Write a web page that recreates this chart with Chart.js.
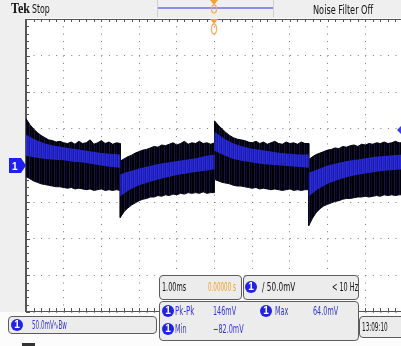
<!DOCTYPE html>
<html lang="en">
<head>
<meta charset="UTF-8">
<title>Tek scope capture</title>
<script src="https://cdn.jsdelivr.net/npm/chart.js"></script>
<style>
    body {
        margin: 0;
        width: 401px;
        height: 346px;
        overflow: hidden;
        position: relative;
        background: #fcfcfc;
        font-family: "Liberation Sans Narrow", "DejaVu Sans Condensed", sans-serif;
    }
    #scope { position: absolute; left: 0; top: 0; }
    #hdr { position: absolute; left: 0; top: 0; width: 401px; height: 18px; background: #efefef; }
    #lstrip { position: absolute; left: 0; top: 18px; width: 25px; height: 294px; background: #efefef; }
    .sep { position: absolute; top: 0; width: 1px; height: 17px; background: #cfcfcf; }
    .t {
        position: absolute;
        white-space: nowrap;
        font-size: 12px;
        line-height: 12px;
        transform: scaleX(0.6);
        transform-origin: 0 50%;
        color: #111;
    }
    .blue { color: #3434d6; }
    .box {
        position: absolute;
        box-sizing: border-box;
        border: 1px solid #5c5c5c;
        border-radius: 4px;
        background: #ececec;
    }
    .pill {
        position: absolute;
        width: 12px;
        height: 12px;
        border-radius: 6px;
        background: #2222e4;
        color: #fff;
        font: bold 10px/12px "Liberation Sans", sans-serif;
        text-align: center;
    }
    svg { position: absolute; left: 0; top: 0; }
</style>
</head>
<body>

<div id="hdr"></div>
<div id="lstrip"></div>
<canvas id="scope" width="403" height="346"></canvas>

<!-- header -->
<div class="sep" style="left:157px"></div>
<div class="sep" style="left:273px"></div>
<div style="position:absolute;left:158px;top:7px;width:115px;height:2px;background:#8b8bf0"></div>
<div class="t" style="left:11px;top:1px;font:bold 15px/15px 'Liberation Serif',serif;transform:scaleX(0.8)">Tek</div>
<div class="t" style="left:32px;top:3px;transform:scaleX(0.72)">Stop</div>
<div class="t" style="left:313px;top:3px;font-size:13px;line-height:13px;transform:scaleX(0.7)">Noise Filter Off</div>

<!-- markers -->
<svg width="401" height="346">
    <polygon points="210,0 218,0 214,5" fill="#f2a23c"/>
    <ellipse cx="214" cy="9" rx="2.5" ry="4" fill="none" stroke="#f5b060" stroke-width="1.3"/>
    <polygon points="210,19 218,19 214,24" fill="#f2a23c"/>
    <ellipse cx="214" cy="29" rx="2.5" ry="5" fill="none" stroke="#f5b060" stroke-width="1.3"/>
    <polygon points="9,158 21,158 26,165.5 21,173 9,173" fill="#2020ee"/>
    <text x="12" y="170" fill="#fff" font-family="Liberation Sans" font-weight="bold" font-size="10">1</text>
    <polygon points="397,130 403,124 409,130 403,136" fill="#3a3aee"/>
</svg>

<!-- readouts -->
<div class="box" style="left:159px;top:275px;width:83px;height:25px"></div>
<div class="box" style="left:243px;top:275px;width:116px;height:25px"></div>
<div class="box" style="left:159px;top:301px;width:200px;height:40px"></div>
<div class="box" style="left:359px;top:316px;width:46px;height:22px"></div>
<div class="box" style="left:8px;top:316px;width:149px;height:18px"></div>

<div class="t" style="left:162px;top:281px">1.00ms</div>
<div class="t" style="left:208px;top:281px;color:#f0a020;transform:scaleX(0.52)">0.00000 s</div>
<div class="pill" style="left:245px;top:281px">1</div>
<div class="t" style="left:262px;top:281px;transform:scaleX(0.68)">/ 50.0mV</div>
<div class="t" style="left:332px;top:281px">&lt; 10 Hz</div>

<div class="pill" style="left:162px;top:305px">1</div>
<div class="t blue" style="left:175px;top:305px;transform:scaleX(0.66)">Pk-Pk</div>
<div class="t blue" style="left:213px;top:305px">146mV</div>
<div class="pill" style="left:260px;top:305px">1</div>
<div class="t blue" style="left:275px;top:305px">Max</div>
<div class="t blue" style="left:313px;top:305px">64.0mV</div>
<div class="pill" style="left:162px;top:323px">1</div>
<div class="t blue" style="left:175px;top:323px">Min</div>
<div class="t blue" style="left:213px;top:323px">−82.0mV</div>

<div class="t" style="left:362px;top:321px;transform:scaleX(0.53)">13:09:10</div>
<div class="pill" style="left:11px;top:319px">1</div>
<div class="t blue" style="left:32px;top:319px;transform:scaleX(0.52)">50.0mV∿Bw</div>
<div style="position:absolute;left:22px;top:343px;width:13px;height:3px;background:#333"></div>

<script>
    // time axis in ms (1.00 ms/div, trigger at centre), voltage in mV (50 mV/div)
    const envTimeMs = [
        -5.0,-4.9,-4.8,-4.7,-4.6,-4.5,-4.4,-4.3,-4.2,-4.1,-4.0,-3.9,-3.8,-3.7,-3.6,-3.5,-3.4,-3.3,-3.2,-3.1,-3.0,-2.9,-2.8,-2.7,-2.6,-2.5,
        -2.5,-2.4,-2.3,-2.2,-2.1,-2.0,-1.9,-1.8,-1.7,-1.6,-1.5,-1.4,-1.3,-1.2,-1.1,-1.0,-0.9,-0.8,-0.7,-0.6,-0.5,-0.4,-0.3,-0.2,-0.1,0.0,
        0.0,0.1,0.2,0.3,0.4,0.5,0.6,0.7,0.8,0.9,1.0,1.1,1.2,1.3,1.4,1.5,1.6,1.7,1.8,1.9,2.0,2.1,2.2,2.3,2.4,2.5,
        2.5,2.6,2.7,2.8,2.9,3.0,3.1,3.2,3.3,3.4,3.5,3.6,3.7,3.8,3.9,4.0,4.1,4.2,4.3,4.4,4.5,4.6,4.7,4.8,4.9,5.0
    ];
    // upper edge of the trace envelope
    const envTop = [
        64,56,50,45,41,38,35,34,32,33,31,30,32,29,33,30,31,35,29,31,34,30,32,29,31,30,
        6,9,12,14,17,19,21,22,24,26,25,28,27,29,31,28,30,33,29,31,30,33,30,31,29,31,
        61,55,50,45,41,38,36,35,34,32,31,33,30,32,29,31,33,30,29,32,30,31,29,32,30,30,
        8,12,15,17,19,21,22,24,23,26,25,27,28,26,29,28,30,29,31,30,32,30,31,33,31,31
    ];
    // lower edge of the trace envelope
    const envBottom = [
        -15,-18,-21,-23,-25,-26,-27,-28,-29,-29,-30,-31,-30,-32,-31,-32,-33,-32,-34,-33,-32,-34,-33,-34,-33,-34,
        -71,-63,-58,-54,-51,-48,-46,-45,-43,-43,-41,-42,-40,-41,-39,-40,-38,-39,-37,-38,-37,-38,-36,-38,-37,-37,
        -19,-21,-23,-24,-25,-27,-28,-28,-29,-30,-31,-30,-32,-31,-32,-33,-32,-33,-34,-33,-32,-34,-33,-34,-33,-33,
        -82,-72,-64,-59,-55,-53,-51,-49,-48,-46,-45,-45,-44,-43,-43,-42,-43,-42,-41,-42,-40,-41,-40,-41,-40,-40
    ];
    // dense (blue) part of the trace
    const coreTimeMs = [
        -5.0,-4.75,-4.5,-4.25,-4.0,-3.75,-3.5,-3.25,-3.0,-2.75,-2.5,
        -2.5,-2.25,-2.0,-1.75,-1.5,-1.25,-1.0,-0.75,-0.5,-0.25,0.0,
        0.0,0.25,0.5,0.75,1.0,1.25,1.5,1.75,2.0,2.25,2.5,
        2.5,2.75,3.0,3.25,3.5,3.75,4.0,4.25,4.5,4.75,5.0
    ];
    const coreTop = [
        42,35,30,27,25,23,21,19,17,16,15,
        -12,-8,-4,-1,2,4,6,8,10,13,15,
        46,37,30,26,23,21,19,17,16,15,15,
        -10,-5,0,3,6,8,10,12,13,14,15
    ];
    const coreBottom = [
        13,11,9,8,7,5,4,2,0,-2,-3,
        -42,-33,-27,-23,-19,-16,-13,-11,-9,-7,-5,
        20,14,9,6,4,2,1,0,-1,-2,-3,
        -42,-32,-25,-20,-16,-13,-11,-9,-7,-6,-5
    ];

    const xRange = [-5, 5];      // 10 divisions
    const yRange = [-200, 200];  // 8 divisions

    const pts = (xs, ys) => xs.map((x, i) => ({ x: x, y: ys[i] }));

    // vertical striping, like the persistence display of the scope
    function stripes(colors) {
        const c = document.createElement('canvas');
        c.width = colors.length;
        c.height = 1;
        const g = c.getContext('2d');
        colors.forEach((col, i) => { g.fillStyle = col; g.fillRect(i, 0, 1, 1); });
        return g.createPattern(c, 'repeat');
    }
    const blackFill = stripes(['#000004', '#0a0a26', '#000004', '#000004', '#15154a']);
    const blueFill = stripes(['#2828d0', '#1a1aa6', '#2e2ee0', '#2020ba']);

    // white screen + scope border ticks
    const graticule = {
        id: 'graticule',
        beforeDraw(chart) {
            const a = chart.chartArea, ctx = chart.ctx;
            ctx.save();
            ctx.fillStyle = '#ffffff';
            ctx.fillRect(a.left, a.top, a.right - a.left, a.bottom - a.top);
            ctx.restore();
        },
        beforeDatasetsDraw(chart) {
            const a = chart.chartArea, ctx = chart.ctx;
            const xs = chart.scales.x, ys = chart.scales.y;
            ctx.save();
            ctx.fillStyle = '#555';
            ctx.fillRect(a.left - 1, a.top, 2, a.bottom - a.top);
            ctx.fillRect(a.left, a.top, a.right - a.left, 1);
            ctx.fillRect(a.left, a.bottom - 1, a.right - a.left, 1);
            for (let v = xRange[0]; v <= xRange[1] + 1e-6; v += 0.2) {
                const px = Math.round(xs.getPixelForValue(v));
                ctx.fillRect(px, a.top, 1, 3);
                ctx.fillRect(px, a.bottom - 4, 1, 3);
            }
            for (let v = yRange[0]; v <= yRange[1] + 1e-6; v += 10) {
                const py = Math.round(ys.getPixelForValue(v));
                const major = Math.abs(v % 50) < 1e-6;
                ctx.fillRect(a.left, py, major ? 4 : 3, 1);
            }
            ctx.restore();
        }
    };

    new Chart(document.getElementById('scope'), {
        type: 'line',
        data: {
            datasets: [
                {
                    data: pts(coreTimeMs, coreTop),
                    borderWidth: 0,
                    borderColor: 'rgba(0,0,0,0)',
                    backgroundColor: blueFill,
                    fill: '+1'
                },
                {
                    data: pts(coreTimeMs, coreBottom),
                    borderWidth: 0,
                    borderColor: 'rgba(0,0,0,0)',
                    fill: false
                },
                {
                    data: pts(envTimeMs, envTop),
                    borderWidth: 1,
                    borderColor: '#02020c',
                    backgroundColor: blackFill,
                    fill: '+1'
                },
                {
                    data: pts(envTimeMs, envBottom),
                    borderWidth: 1,
                    borderColor: '#02020c',
                    fill: false
                }
            ]
        },
        options: {
            responsive: false,
            animation: false,
            layout: { padding: { left: 26, top: 19, right: 0, bottom: 34 } },
            elements: { point: { radius: 0 }, line: { tension: 0 } },
            plugins: { legend: { display: false }, tooltip: { enabled: false } },
            scales: {
                x: {
                    type: 'linear',
                    min: xRange[0],
                    max: xRange[1],
                    ticks: { display: false, stepSize: 1 },
                    grid: { color: '#7a7a7a', lineWidth: 1, drawTicks: false },
                    border: { display: false, dash: [1, 6.32] },
                    afterFit(s) { s.height = 0; }
                },
                y: {
                    min: yRange[0],
                    max: yRange[1],
                    ticks: { display: false, stepSize: 50 },
                    grid: { color: '#7a7a7a', lineWidth: 1, drawTicks: false },
                    border: { display: false, dash: [1, 6.54] },
                    afterFit(s) { s.width = 0; }
                }
            }
        },
        plugins: [graticule]
    });
</script>
</body>
</html>
